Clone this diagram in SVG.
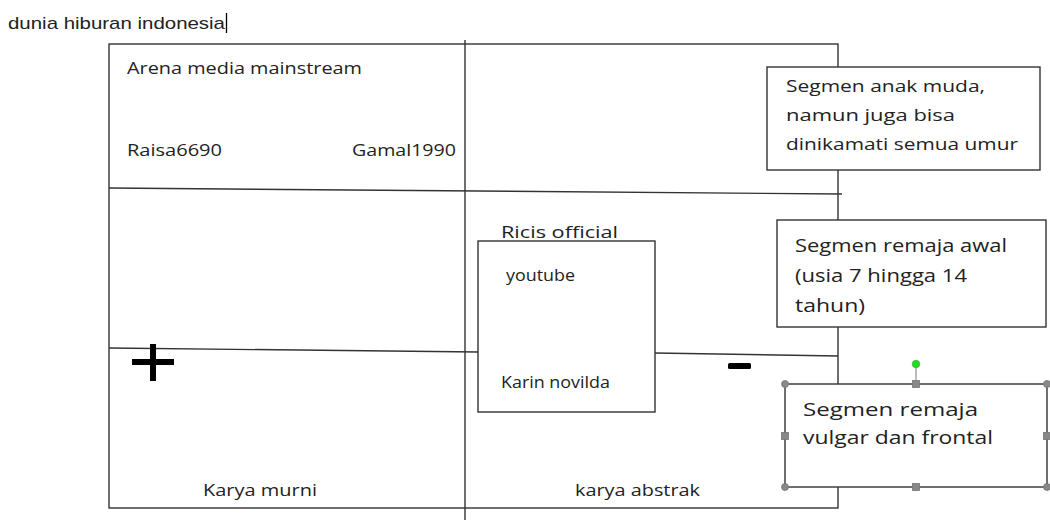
<svg xmlns="http://www.w3.org/2000/svg" width="1050" height="520" viewBox="0 0 1050 520">
<style>
.ln{stroke:#333;stroke-width:1.4;fill:none}
.bx{stroke:#333;stroke-width:1.4;fill:#fff}
.t{font-family:"Open Sans","Noto Sans",sans-serif;font-size:17px;fill:#222}
.t2{font-family:"Open Sans","Noto Sans",sans-serif;font-size:19px;fill:#222}
.h{fill:#888;stroke:#777;stroke-width:0.8}
</style>
<rect width="1050" height="520" fill="#fff"/>
<text x="8" y="29" font-family="Liberation Sans,Arial,sans-serif" font-size="17" fill="#222" textLength="217" lengthAdjust="spacingAndGlyphs">dunia hiburan indonesia</text>
<line x1="226.5" y1="13" x2="226.5" y2="33" stroke="#000" stroke-width="1.3"/>
<g id="connectors">
<rect class="ln" x="109" y="44" width="729" height="464"/>
<line class="ln" x1="465" y1="40" x2="465" y2="520"/>
<line class="ln" x1="109" y1="188" x2="842" y2="194"/>
<line class="ln" x1="109" y1="348" x2="478" y2="352"/>
<line class="ln" x1="655" y1="353" x2="838" y2="356"/>
</g>
<g id="labels-main">
<text class="t" x="127" y="74" textLength="235" lengthAdjust="spacingAndGlyphs">Arena media mainstream</text>
<text class="t" x="127" y="156" textLength="95" lengthAdjust="spacingAndGlyphs">Raisa6690</text>
<text class="t" x="352" y="156" textLength="104" lengthAdjust="spacingAndGlyphs">Gamal1990</text>
<text class="t" x="203" y="496" textLength="114" lengthAdjust="spacingAndGlyphs">Karya murni</text>
<text class="t" x="575" y="496" textLength="125" lengthAdjust="spacingAndGlyphs">karya abstrak</text>
</g>
<g id="plus">
<rect x="132" y="359" width="42" height="6" fill="#000"/>
<rect x="150" y="344" width="6" height="37" fill="#000"/>
</g>
<g id="minus">
<rect x="728" y="363" width="23" height="6" rx="1.5" fill="#000"/>
</g>
<g id="ricis">
<rect class="bx" x="478" y="241" width="177" height="171"/>
<text class="t" x="501" y="238" textLength="117" lengthAdjust="spacingAndGlyphs">Ricis official</text>
<text class="t" x="506" y="281" font-size="15" textLength="69" lengthAdjust="spacingAndGlyphs">youtube</text>
<text class="t" x="501" y="388" font-size="15" textLength="109" lengthAdjust="spacingAndGlyphs">Karin novilda</text>
</g>
<g id="box1">
<rect class="bx" x="767" y="67" width="273" height="103"/>
<text class="t" x="786" y="92" textLength="199" lengthAdjust="spacingAndGlyphs">Segmen anak muda,</text>
<text class="t" x="786" y="121" textLength="169" lengthAdjust="spacingAndGlyphs">namun juga bisa</text>
<text class="t" x="786" y="150" textLength="232" lengthAdjust="spacingAndGlyphs">dinikamati semua umur</text>
</g>
<g id="box2">
<rect class="bx" x="777" y="220" width="269" height="107"/>
<text class="t2" x="795" y="252" textLength="212" lengthAdjust="spacingAndGlyphs">Segmen remaja awal</text>
<text class="t2" x="795" y="282" textLength="172" lengthAdjust="spacingAndGlyphs">(usia 7 hingga 14</text>
<text class="t2" x="795" y="312" textLength="70" lengthAdjust="spacingAndGlyphs">tahun)</text>
</g>
<g id="box3">
<rect class="bx" x="785" y="384" width="262" height="103"/>
<text class="t2" x="803" y="416" textLength="175" lengthAdjust="spacingAndGlyphs">Segmen remaja</text>
<text class="t2" x="803" y="444" textLength="190" lengthAdjust="spacingAndGlyphs">vulgar dan frontal</text>
<line x1="916" y1="367" x2="916" y2="384" stroke="#777" stroke-width="1"/>
<circle cx="916" cy="364" r="3.8" fill="#22dd22" stroke="#3a3" stroke-width="0.6"/>
<circle class="h" cx="785" cy="384" r="3.5"/>
<circle class="h" cx="1047" cy="384" r="3.5"/>
<circle class="h" cx="785" cy="487" r="3.5"/>
<circle class="h" cx="1047" cy="487" r="3.5"/>
<rect class="h" x="912.5" y="380.5" width="7" height="7"/>
<rect class="h" x="912.5" y="483.5" width="7" height="7"/>
<rect class="h" x="781.5" y="432.5" width="7" height="7"/>
<rect class="h" x="1043.5" y="432.5" width="7" height="7"/>
</g>
</svg>
